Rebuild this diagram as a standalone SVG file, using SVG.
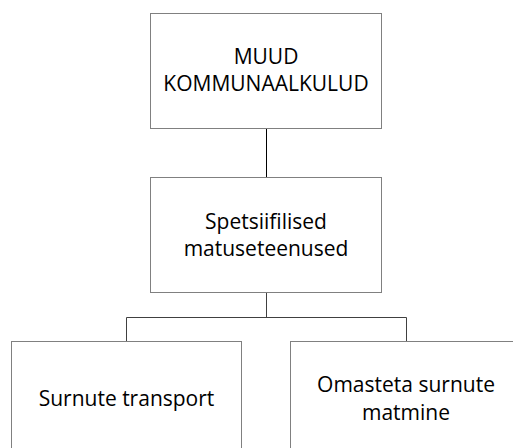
<svg xmlns="http://www.w3.org/2000/svg" width="513" height="448" viewBox="0 0 513 448">
<style>
.box{fill:#fff;stroke:#808080;stroke-width:1}
.lbl{font-family:"Open Sans","Liberation Sans",sans-serif;font-size:21px;fill:#000;text-anchor:middle}
.conn{fill:none;stroke-width:1}
</style>
<rect width="513" height="448" fill="#fff"/>
<g id="connectors">
<path class="conn" stroke="#000" d="M266.5 128.5V177.5"/>
<path class="conn" stroke="#404040" d="M266.5 292.5V317.5M126.5 317.5H406.5M126.5 317.5V341.5M406.5 317.5V341.5"/>
</g>
<g id="node-muud">
<rect class="box" x="150.5" y="13.5" width="231" height="115"/>
<text class="lbl" x="266" y="63.5">MUUD</text>
<text class="lbl" x="266" y="91">KOMMUNAALKULUD</text>
</g>
<g id="node-spetsiifilised">
<rect class="box" x="150.5" y="177.5" width="231" height="115"/>
<text class="lbl" x="266" y="228.5">Spetsiifilised</text>
<text class="lbl" x="266" y="255.5">matuseteenused</text>
</g>
<g id="node-transport">
<rect class="box" x="11.5" y="341.5" width="230" height="115"/>
<text class="lbl" x="126.5" y="406">Surnute transport</text>
</g>
<g id="node-matmine">
<rect class="box" x="290.5" y="341.5" width="231" height="115"/>
<text class="lbl" x="406" y="392">Omasteta surnute</text>
<text class="lbl" x="406" y="419.5">matmine</text>
</g>
</svg>
